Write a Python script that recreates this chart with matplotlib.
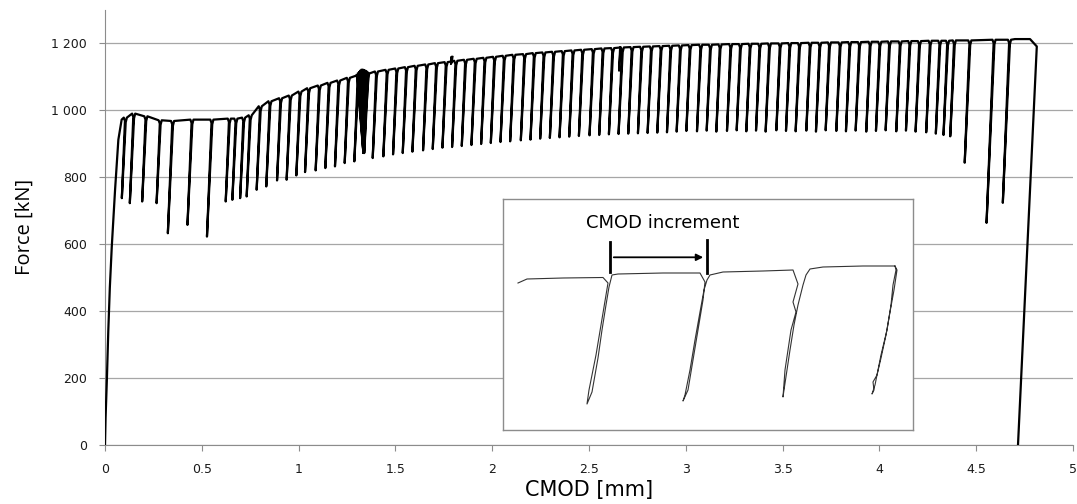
import matplotlib.pyplot as plt
from matplotlib.ticker import FuncFormatter, MultipleLocator

# initial loading branch
load_cmod = [0.0, 0.003, 0.010, 0.017, 0.025, 0.035, 0.052, 0.069, 0.086]
load_force = [0, 80, 200, 340, 470, 592, 762, 912, 972]

# unloading cycles: CMOD where unloading starts, force there, force at bottom
cycle_cmod = [0.103, 0.146, 0.209, 0.283, 0.347, 0.447, 0.550, 0.640, 0.674, 0.714, 0.748,
              0.80, 0.85, 0.905, 0.955, 1.005, 1.05, 1.105, 1.155, 1.205, 1.255, 1.305, 1.355,
              1.40, 1.455, 1.505, 1.555, 1.605, 1.66, 1.71, 1.76, 1.81, 1.86, 1.91, 1.96,
              2.01, 2.06, 2.11, 2.165, 2.215, 2.265, 2.315, 2.365, 2.415, 2.465, 2.52, 2.57,
              2.62, 2.67, 2.72, 2.77, 2.82, 2.87, 2.92, 2.97, 3.02, 3.075, 3.125, 3.175, 3.23,
              3.28, 3.33, 3.38, 3.43, 3.485, 3.535, 3.585, 3.64, 3.69, 3.74, 3.795, 3.845,
              3.895, 3.95, 4.0, 4.05, 4.105, 4.155, 4.205, 4.26, 4.31, 4.35, 4.385,
              4.465, 4.59, 4.67]
cycle_peak = [978, 990, 982, 970, 968, 972, 972, 975, 975, 978, 985,
              1012, 1027, 1036, 1044, 1056, 1066, 1074, 1082, 1089, 1097, 1104, 1110,
              1116, 1121, 1125, 1129, 1133, 1137, 1141, 1144, 1148, 1151, 1154, 1157,
              1160, 1163, 1166, 1168, 1171, 1173, 1175, 1177, 1179, 1181, 1183, 1185,
              1186, 1188, 1189, 1190, 1191, 1192, 1193, 1194, 1195, 1196, 1196, 1197, 1198,
              1198, 1199, 1199, 1200, 1200, 1201, 1201, 1202, 1202, 1203, 1203, 1204,
              1204, 1205, 1205, 1206, 1206, 1207, 1207, 1208, 1208, 1208, 1209,
              1209, 1211, 1211]
cycle_min = [737, 722, 727, 722, 632, 657, 622, 727, 732, 737, 742,
             762, 772, 790, 792, 805, 815, 820, 827, 832, 842, 847, 872,
             857, 862, 868, 872, 876, 880, 884, 888, 890, 893, 896, 899,
             902, 905, 907, 910, 912, 915, 917, 919, 921, 923, 925, 926,
             928, 929, 930, 931, 932, 933, 934, 936, 938, 937, 939, 936, 938,
             940, 937, 939, 936, 940, 938, 937, 939, 936, 940, 938, 937,
             939, 936, 938, 940, 937, 939, 936, 934, 930, 926, 922,
             843, 663, 723]

# last reloading up to failure
end_cmod = [4.700, 4.778, 4.813, 4.716]
end_force = [1213, 1213, 1191, 0]

# dense bunch of loops near 1.33 mm
fan_top_cmod = [1.300, 1.306, 1.312, 1.318, 1.324, 1.330, 1.336, 1.342, 1.348, 1.354, 1.360]
fan_top_force = [1106, 1110, 1114, 1118, 1121, 1121, 1120, 1118, 1116, 1113, 1110]
fan_bottom = (1.334, 872)

# small irregular loops
small_top_cmod = [1.788, 1.793, 2.660]
small_top_force = [1158, 1160, 1188]
small_bottom_force = [1138, 1142, 1118]

k_unload = 15000  # kN/mm, slope of unloading branches

# inset: four cycles drawn by hand (own units)
inset_u = [15, 24, 60, 100, 105, 103, 98, 93, 88, 86, 84, 89, 92, 95, 99, 103, 106, 109,
           115, 160, 197, 202, 200, 195, 190, 185, 180, 182, 187, 192, 197, 201, 204, 207,
           220, 260, 290, 295, 290, 293, 288, 285, 282, 280, 281, 284, 287, 291, 295, 300,
           303, 307, 320, 360, 392, 393, 390, 388, 384, 378, 375, 372, 369, 371, 370, 374,
           378, 383, 387, 391, 394, 392]
inset_v = [147, 151, 152, 152.5, 147, 135, 105, 75, 50, 40, 26, 38, 55, 72, 100, 125, 143, 155,
           156, 157, 157, 148, 130, 100, 70, 40, 29, 35, 60, 90, 118, 140, 150, 155,
           158, 159, 160, 146, 128, 118, 100, 80, 60, 33, 40, 60, 80, 105, 125, 145,
           155, 161, 163, 164, 164, 160, 145, 125, 100, 75, 60, 45, 36, 40, 48, 55,
           72, 95, 118, 140, 160, 164]

# build the force-CMOD path
xs = list(load_cmod)
fs = list(load_force)
for x, p, m in zip(cycle_cmod, cycle_peak, cycle_min):
    d = (p - m) / k_unload
    xs += [x - 0.006, x, x - d, x + 0.004, x + 0.010]
    fs += [p, p - 10, m, p - 14, p]
xs += end_cmod
fs += end_force

fig = plt.figure(figsize=(10.77, 5.04), dpi=100)
ax = fig.add_axes([105 / 1077, 59.5 / 504, 968 / 1077, 434.5 / 504])

ax.plot(xs, fs, color="black", lw=1.6, solid_joinstyle="round", zorder=3)
for tx, tf in zip(fan_top_cmod, fan_top_force):
    ax.plot([tx, fan_bottom[0], tx + 0.003], [tf, fan_bottom[1], tf], color="black", lw=1.4, zorder=3)
for tx, tf, bf in zip(small_top_cmod, small_top_force, small_bottom_force):
    d = (tf - bf) / k_unload
    ax.plot([tx, tx - d, tx + 0.002], [tf, bf, tf], color="black", lw=1.4, zorder=3)

ax.set_xlim(0, 5)
ax.set_ylim(0, 1300)
ax.xaxis.set_major_locator(MultipleLocator(0.5))
ax.yaxis.set_major_locator(MultipleLocator(200))
ax.xaxis.set_major_formatter(FuncFormatter(lambda v, pos: f"{v:g}"))
ax.yaxis.set_major_formatter(FuncFormatter(lambda v, pos: f"{int(v):,}".replace(",", " ")))
ax.yaxis.grid(True, color="#a6a6a6", lw=0.9)
ax.set_axisbelow(True)
for s in ["top", "right"]:
    ax.spines[s].set_visible(False)
for s in ["left", "bottom"]:
    ax.spines[s].set_color("#8c8c8c")
ax.tick_params(axis="both", colors="#8c8c8c", labelcolor="#1a1a1a", length=4, labelsize=9)
ax.tick_params(axis="y", pad=9)
ax.tick_params(axis="x", pad=9)
for lab in ax.get_xticklabels() + ax.get_yticklabels():
    lab.set_family("DejaVu Sans")

ax.set_xlabel("CMOD [mm]", fontsize=15, family="DejaVu Sans", labelpad=3)
ax.set_ylabel("Force [kN]", fontsize=14.5, family="Open Sans", labelpad=12)

# inset
ax_in = fig.add_axes([503 / 1077, 74 / 504, 410 / 1077, 231 / 504])
ax_in.set_xlim(0, 410)
ax_in.set_ylim(0, 231)
ax_in.set_xticks([])
ax_in.set_yticks([])
for s in ax_in.spines.values():
    s.set_color("#8c8c8c")
    s.set_linewidth(1.0)
ax_in.plot(inset_u, inset_v, color="#333333", lw=0.8)
ax_in.plot([107, 107], [158, 188], color="black", lw=2)
ax_in.plot([204, 204], [157, 190], color="black", lw=2)
ax_in.annotate("", xy=(203, 172.7), xytext=(108, 172.7),
               arrowprops=dict(arrowstyle="-|>", lw=1.3, color="black", mutation_scale=10))
ax_in.text(160, 207, "CMOD increment", ha="center", va="center", fontsize=13, family="DejaVu Sans")

fig.savefig("out.png", dpi=100)
